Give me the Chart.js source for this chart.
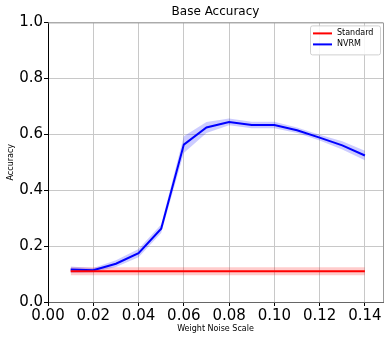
<!DOCTYPE html>
<html>
<head>
<meta charset="utf-8">
<script src="https://cdn.jsdelivr.net/npm/chart.js@4/dist/chart.umd.min.js"></script>
<style>body{margin:0;background:#fff}</style>
</head>
<body>
<canvas id="myChart" width="391" height="341"></canvas>
<script>
const noiseScale = [0.01, 0.02, 0.03, 0.04, 0.05, 0.06, 0.07, 0.08, 0.09, 0.10, 0.11, 0.12, 0.13, 0.14];
const nvrmMean = [0.116, 0.114, 0.137, 0.175, 0.262, 0.563, 0.624, 0.644, 0.633, 0.633, 0.614, 0.588, 0.560, 0.524];
const nvrmErr = [0.011, 0.008, 0.012, 0.015, 0.015, 0.030, 0.020, 0.012, 0.012, 0.012, 0.010, 0.010, 0.015, 0.017];
const standardMean = [0.110, 0.110, 0.110, 0.110, 0.110, 0.110, 0.110, 0.110, 0.110, 0.110, 0.110, 0.110, 0.110, 0.110];
const standardErr = [0.014, 0.014, 0.014, 0.014, 0.014, 0.014, 0.014, 0.014, 0.014, 0.014, 0.014, 0.014, 0.014, 0.014];
const xTicks = [0.00, 0.02, 0.04, 0.06, 0.08, 0.10, 0.12, 0.14];
const yTicks = [0.0, 0.2, 0.4, 0.6, 0.8, 1.0];

Chart.defaults.font.family = "'DejaVu Sans', sans-serif";
Chart.defaults.color = "#000";

function pts(values, err, sign) {
  return noiseScale.map((x, i) => ({ x: x, y: values[i] + sign * (err ? err[i] : 0) }));
}

// band dataset helper
function band(values, err, sign, color, fill) {
  return {
    label: "",
    data: pts(values, err, sign),
    borderWidth: 0,
    borderColor: "transparent",
    backgroundColor: color,
    pointRadius: 0,
    fill: fill,
    order: 3,
  };
}

// legend box inside the plot, top right
const boxLegend = {
  id: "boxLegend",
  afterDraw(chart) {
    const ctx = chart.ctx;
    const area = chart.chartArea;
    const items = chart.data.datasets.filter((d) => d.label);
    const w = 70, h = 29;
    const x = area.right - w - 3, y = area.top + 3;
    ctx.save();
    ctx.fillStyle = "rgba(255,255,255,0.85)";
    ctx.strokeStyle = "#d0d0d0";
    ctx.lineWidth = 1;
    ctx.beginPath();
    ctx.roundRect(x + 0.5, y + 0.5, w, h, 2);
    ctx.fill();
    ctx.stroke();
    ctx.font = "8px 'DejaVu Sans'";
    ctx.textBaseline = "middle";
    items.forEach((d, i) => {
      const ly = y + 8 + i * 11;
      ctx.strokeStyle = d.borderColor;
      ctx.lineWidth = 2;
      ctx.beginPath();
      ctx.moveTo(x + 3, ly);
      ctx.lineTo(x + 22, ly);
      ctx.stroke();
      ctx.fillStyle = "#000";
      ctx.fillText(d.label, x + 27, ly);
    });
    ctx.restore();
  },
};

// top and right spines
const frame = {
  id: "frame",
  afterDatasetsDraw(chart) {
    const ctx = chart.ctx;
    const a = chart.chartArea;
    ctx.save();
    ctx.strokeStyle = "#999";
    ctx.lineWidth = 1;
    ctx.beginPath();
    ctx.moveTo(a.left, a.top + 0.5);
    ctx.lineTo(a.right + 0.5, a.top + 0.5);
    ctx.lineTo(a.right + 0.5, a.bottom);
    ctx.stroke();
    ctx.restore();
  },
};

new Chart("myChart", {
  type: "line",
  data: {
    datasets: [
      band(nvrmMean, nvrmErr, -1, "rgba(0,0,255,0.2)", false),
      band(nvrmMean, nvrmErr, 1, "rgba(0,0,255,0.2)", "-1"),
      band(standardMean, standardErr, -1, "rgba(255,0,0,0.2)", false),
      band(standardMean, standardErr, 1, "rgba(255,0,0,0.2)", "-1"),
      {
        label: "Standard",
        data: pts(standardMean, null, 0),
        borderColor: "#ff0000",
        borderWidth: 2,
        pointRadius: 0,
        fill: false,
        order: 1,
      },
      {
        label: "NVRM",
        data: pts(nvrmMean, null, 0),
        borderColor: "#0000ff",
        borderWidth: 2,
        pointRadius: 0,
        fill: false,
        order: 1,
      },
    ],
  },
  options: {
    responsive: false,
    animation: false,
    devicePixelRatio: 1,
    layout: { padding: { left: 0, right: 8, top: 0, bottom: 0 } },
    plugins: {
      legend: { display: false },
      tooltip: { enabled: false },
      title: {
        display: true,
        fullSize: false,
        text: "Base Accuracy",
        font: { size: 12, weight: "normal" },
        color: "#000",
        padding: { top: 5, bottom: 3 },
      },
    },
    scales: {
      x: {
        type: "linear",
        min: 0,
        max: 0.148,
        afterBuildTicks: (s) => { s.ticks = xTicks.map((v) => ({ value: v })); },
        afterFit: (s) => { s.height = 39; },
        ticks: {
          font: { size: 15 },
          color: "#000",
          padding: 1,
          maxRotation: 0,
          autoSkip: false,
          callback: (v) => Number(v).toFixed(2),
        },
        grid: { color: "#c8c8c8", tickColor: "#000", tickLength: 4 },
        border: { color: "#666" },
        title: {
          display: true,
          text: "Weight Noise Scale",
          font: { size: 8 },
          color: "#000",
          padding: { top: 0, bottom: 7 },
        },
      },
      y: {
        min: 0,
        max: 1,
        afterBuildTicks: (s) => { s.ticks = yTicks.map((v) => ({ value: v })); },
        afterFit: (s) => { s.width = 48; },
        ticks: {
          font: { size: 15 },
          color: "#000",
          padding: 1,
          callback: (v) => Number(v).toFixed(1),
        },
        grid: { color: "#c8c8c8", tickColor: "#000", tickLength: 4 },
        border: { color: "#000" },
        title: {
          display: true,
          text: "Accuracy",
          font: { size: 8 },
          color: "#000",
          padding: { top: 6, bottom: 0 },
        },
      },
    },
  },
  plugins: [frame, boxLegend],
});
</script>
</body>
</html>
